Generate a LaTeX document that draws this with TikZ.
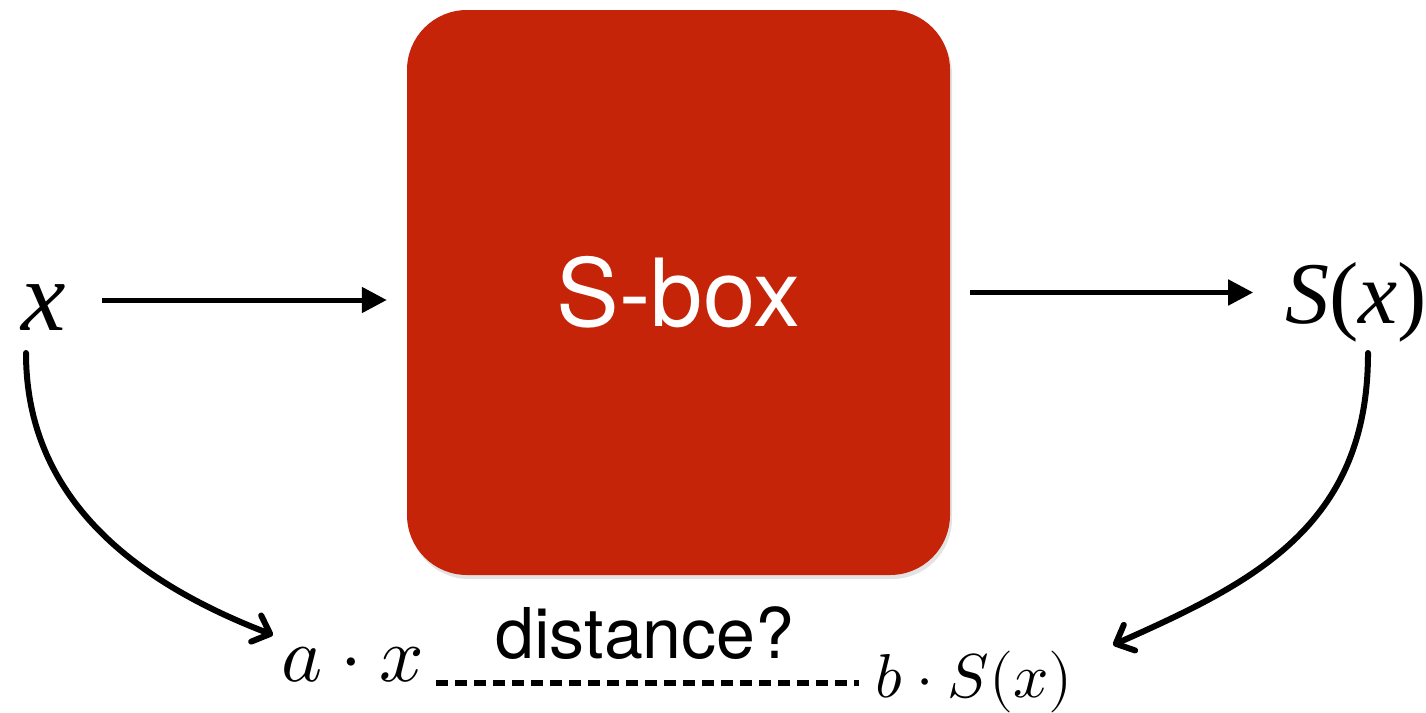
\documentclass[tikz,border=0pt]{standalone}
\usepackage{fontspec}
\usepackage{unicode-math}
\setmathfont{Latin Modern Math}
\newfontfamily\serifl{Liberation Serif}
\newfontfamily\heros{TeX Gyre Heros}
\usetikzlibrary{arrows.meta,calc,shadows}
\definecolor{sboxred}{RGB}{197,36,8}
\tikzset{
  lbl/.style={inner sep=0pt,outer sep=0pt,anchor=base},
  sboxnode/.style={fill=sboxred,draw=none,rounded corners=60pt,
    minimum width=543pt,minimum height=565pt,inner sep=0pt,text=white,
    drop shadow={shadow xshift=2pt,shadow yshift=-4pt,opacity=0.22}},
  arr/.style={line width=5pt,-{Triangle[length=25pt,width=25pt]}},
  carr/.style={line width=6pt,line cap=round,-{Straight Barb[length=15pt,width=28pt,line cap=round,line join=round]}},
  dsh/.style={line width=5.5pt,dash pattern=on 12pt off 7pt}
}
\begin{document}
\begin{tikzpicture}[x=1pt,y=-1pt]
\useasboundingbox (0,0) rectangle (1426,712);
\node[sboxnode] (nbox) at (678.5,292.5) {\heros\fontsize{94}{94}\selectfont S-box};
\node[lbl] (nx) at (44,330) {\serifl\itshape\fontsize{100}{100}\selectfont x};
\node[lbl] (nSx) at (1356,323) {\serifl\fontsize{88}{88}\selectfont\textit{S}(\textit{x})};
\node[lbl] (nax) at (353,681) {\fontsize{78}{78}\selectfont$a\cdot x$};
\node[lbl] (nbSx) at (974,697) {\fontsize{62}{62}\selectfont$b\cdot S(x)$};
\node[lbl] (ndist) at (645,658) {\heros\fontsize{70}{70}\selectfont distance?};
% straight arrows
\coordinate (a1) at ($(nx.base east)+(36pt,30pt)$);
\draw[arr,shorten >=20pt] (a1) -- (a1 -| nbox.west);
\draw[arr,shorten <=20pt,shorten >=32pt] (nbox.east) -- (nbox.east -| nSx.west);
% curved arrows
\draw[carr] ($(nx.base)+(-18pt,-23pt)$) to[out=-90,in=159] ($(nax.base)+(-80pt,46pt)$);
\draw[carr] ($(nSx.base)+(12pt,-30pt)$) to[out=-90,in=24,out looseness=1.15] ($(nbSx.base)+(139pt,52pt)$);
% dashed line
\coordinate (d1) at ($(nax.base east)+(12pt,-2pt)$);
\draw[dsh,shorten >=16pt] (d1) -- (d1 -| nbSx.west);
\end{tikzpicture}
\end{document}
